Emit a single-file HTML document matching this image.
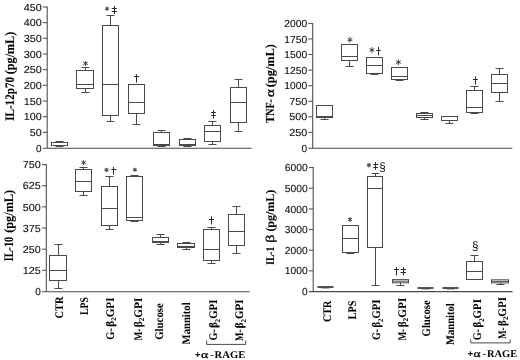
<!DOCTYPE html>
<html><head><meta charset="utf-8"><title>chart</title>
<style>
html,body{margin:0;padding:0;background:#fff;}
body{width:520px;height:360px;overflow:hidden;}
svg{display:block;will-change:transform;}
text{text-rendering:geometricPrecision;}
.tk{font-family:"Liberation Sans",sans-serif;font-size:10.2px;fill:#111;stroke:#111;stroke-width:0.12px;}
.yl{font-family:"Liberation Serif",serif;font-weight:bold;font-size:13px;fill:#000;stroke:#000;stroke-width:0.1px;}
.xl{font-family:"Liberation Serif",serif;font-weight:bold;font-size:11.6px;fill:#000;stroke:#000;stroke-width:0.05px;}
.y2{font-size:12.3px;}
.y4{font-size:11.8px;}
.nb{font-weight:normal !important;stroke:#000;stroke-width:0.3px;}
.sub{font-size:7.2px;}
.rg{font-family:"Liberation Serif",serif;font-weight:bold;font-size:10.2px;fill:#000;}
.sy{font-family:"Liberation Serif",serif;font-size:10px;fill:#222;}
.ss{font-family:"Liberation Sans",sans-serif;font-size:12.2px;fill:#111;}
</style></head><body>
<svg width="520" height="360" viewBox="0 0 520 360">
<rect width="520" height="360" fill="#fff"/>
<path d="M47.20 6.50V148.30M42.90 148.30H251.60" fill="none" stroke="#4a4a4a" stroke-width="1.05"/>
<text x="41.70" y="151.80" text-anchor="end" class="tk" textLength="5.60" lengthAdjust="spacingAndGlyphs">0</text>
<line x1="42.90" y1="132.33" x2="47.20" y2="132.33" stroke="#4a4a4a" stroke-width="1.0"/>
<text x="41.70" y="135.93" text-anchor="end" class="tk" textLength="11.90" lengthAdjust="spacingAndGlyphs">50</text>
<line x1="42.90" y1="116.67" x2="47.20" y2="116.67" stroke="#4a4a4a" stroke-width="1.0"/>
<text x="41.70" y="120.27" text-anchor="end" class="tk" textLength="18.00" lengthAdjust="spacingAndGlyphs">100</text>
<line x1="42.90" y1="101.00" x2="47.20" y2="101.00" stroke="#4a4a4a" stroke-width="1.0"/>
<text x="41.70" y="104.60" text-anchor="end" class="tk" textLength="18.00" lengthAdjust="spacingAndGlyphs">150</text>
<line x1="42.90" y1="85.33" x2="47.20" y2="85.33" stroke="#4a4a4a" stroke-width="1.0"/>
<text x="41.70" y="88.93" text-anchor="end" class="tk" textLength="18.00" lengthAdjust="spacingAndGlyphs">200</text>
<line x1="42.90" y1="69.67" x2="47.20" y2="69.67" stroke="#4a4a4a" stroke-width="1.0"/>
<text x="41.70" y="73.27" text-anchor="end" class="tk" textLength="18.00" lengthAdjust="spacingAndGlyphs">250</text>
<line x1="42.90" y1="54.00" x2="47.20" y2="54.00" stroke="#4a4a4a" stroke-width="1.0"/>
<text x="41.70" y="57.60" text-anchor="end" class="tk" textLength="18.00" lengthAdjust="spacingAndGlyphs">300</text>
<line x1="42.90" y1="38.33" x2="47.20" y2="38.33" stroke="#4a4a4a" stroke-width="1.0"/>
<text x="41.70" y="41.93" text-anchor="end" class="tk" textLength="18.00" lengthAdjust="spacingAndGlyphs">350</text>
<line x1="42.90" y1="22.67" x2="47.20" y2="22.67" stroke="#4a4a4a" stroke-width="1.0"/>
<text x="41.70" y="26.27" text-anchor="end" class="tk" textLength="18.00" lengthAdjust="spacingAndGlyphs">400</text>
<line x1="42.90" y1="7.00" x2="47.20" y2="7.00" stroke="#4a4a4a" stroke-width="1.0"/>
<text x="41.70" y="10.60" text-anchor="end" class="tk" textLength="18.00" lengthAdjust="spacingAndGlyphs">450</text>
<text transform="translate(13.60,120.80) rotate(-90)" class="yl" textLength="43.80" lengthAdjust="spacingAndGlyphs">IL-12p70</text>
<text transform="translate(13.60,74.20) rotate(-90)" class="yl" textLength="42.40" lengthAdjust="spacingAndGlyphs">(pg/mL)</text>
<rect x="51.50" y="142.50" width="16.00" height="3.00" fill="#fff" stroke="#4a4a4a" stroke-width="1.0"/>
<line x1="51.50" y1="145.50" x2="67.50" y2="145.50" stroke="#4a4a4a" stroke-width="1.0"/>
<line x1="59.50" y1="141.50" x2="59.50" y2="142.50" stroke="#4a4a4a" stroke-width="1.0"/>
<line x1="55.50" y1="141.50" x2="63.50" y2="141.50" stroke="#4a4a4a" stroke-width="1.0"/>
<line x1="59.50" y1="145.50" x2="59.50" y2="146.50" stroke="#4a4a4a" stroke-width="1.0"/>
<line x1="55.50" y1="146.50" x2="63.50" y2="146.50" stroke="#4a4a4a" stroke-width="1.0"/>
<rect x="76.50" y="70.50" width="17.00" height="18.00" fill="#fff" stroke="#4a4a4a" stroke-width="1.0"/>
<line x1="76.50" y1="84.50" x2="93.50" y2="84.50" stroke="#4a4a4a" stroke-width="1.0"/>
<line x1="85.50" y1="67.50" x2="85.50" y2="70.50" stroke="#4a4a4a" stroke-width="1.0"/>
<line x1="81.50" y1="67.50" x2="89.50" y2="67.50" stroke="#4a4a4a" stroke-width="1.0"/>
<line x1="85.50" y1="88.50" x2="85.50" y2="92.50" stroke="#4a4a4a" stroke-width="1.0"/>
<line x1="81.50" y1="92.50" x2="89.50" y2="92.50" stroke="#4a4a4a" stroke-width="1.0"/>
<rect x="102.50" y="25.50" width="16.00" height="90.00" fill="#fff" stroke="#4a4a4a" stroke-width="1.0"/>
<line x1="102.50" y1="84.50" x2="118.50" y2="84.50" stroke="#4a4a4a" stroke-width="1.0"/>
<line x1="110.50" y1="15.50" x2="110.50" y2="25.50" stroke="#4a4a4a" stroke-width="1.0"/>
<line x1="106.50" y1="15.50" x2="114.50" y2="15.50" stroke="#4a4a4a" stroke-width="1.0"/>
<line x1="110.50" y1="115.50" x2="110.50" y2="121.50" stroke="#4a4a4a" stroke-width="1.0"/>
<line x1="106.50" y1="121.50" x2="114.50" y2="121.50" stroke="#4a4a4a" stroke-width="1.0"/>
<rect x="128.50" y="84.50" width="16.00" height="29.00" fill="#fff" stroke="#4a4a4a" stroke-width="1.0"/>
<line x1="128.50" y1="102.50" x2="144.50" y2="102.50" stroke="#4a4a4a" stroke-width="1.0"/>
<line x1="132.50" y1="84.50" x2="140.50" y2="84.50" stroke="#4a4a4a" stroke-width="1.0"/>
<line x1="136.50" y1="113.50" x2="136.50" y2="124.50" stroke="#4a4a4a" stroke-width="1.0"/>
<line x1="132.50" y1="124.50" x2="140.50" y2="124.50" stroke="#4a4a4a" stroke-width="1.0"/>
<rect x="153.50" y="132.50" width="16.00" height="13.00" fill="#fff" stroke="#4a4a4a" stroke-width="1.0"/>
<line x1="153.50" y1="144.50" x2="169.50" y2="144.50" stroke="#4a4a4a" stroke-width="1.0"/>
<line x1="161.50" y1="130.50" x2="161.50" y2="132.50" stroke="#4a4a4a" stroke-width="1.0"/>
<line x1="157.50" y1="130.50" x2="165.50" y2="130.50" stroke="#4a4a4a" stroke-width="1.0"/>
<line x1="161.50" y1="145.50" x2="161.50" y2="146.50" stroke="#4a4a4a" stroke-width="1.0"/>
<line x1="157.50" y1="146.50" x2="165.50" y2="146.50" stroke="#4a4a4a" stroke-width="1.0"/>
<rect x="179.50" y="139.50" width="16.00" height="6.00" fill="#fff" stroke="#4a4a4a" stroke-width="1.0"/>
<line x1="179.50" y1="144.50" x2="195.50" y2="144.50" stroke="#4a4a4a" stroke-width="1.0"/>
<line x1="187.50" y1="138.50" x2="187.50" y2="139.50" stroke="#4a4a4a" stroke-width="1.0"/>
<line x1="183.50" y1="138.50" x2="191.50" y2="138.50" stroke="#4a4a4a" stroke-width="1.0"/>
<line x1="187.50" y1="145.50" x2="187.50" y2="146.50" stroke="#4a4a4a" stroke-width="1.0"/>
<line x1="183.50" y1="146.50" x2="191.50" y2="146.50" stroke="#4a4a4a" stroke-width="1.0"/>
<rect x="204.50" y="125.50" width="16.00" height="16.00" fill="#fff" stroke="#4a4a4a" stroke-width="1.0"/>
<line x1="204.50" y1="131.50" x2="220.50" y2="131.50" stroke="#4a4a4a" stroke-width="1.0"/>
<line x1="212.50" y1="121.50" x2="212.50" y2="125.50" stroke="#4a4a4a" stroke-width="1.0"/>
<line x1="208.50" y1="121.50" x2="216.50" y2="121.50" stroke="#4a4a4a" stroke-width="1.0"/>
<line x1="212.50" y1="141.50" x2="212.50" y2="144.50" stroke="#4a4a4a" stroke-width="1.0"/>
<line x1="208.50" y1="144.50" x2="216.50" y2="144.50" stroke="#4a4a4a" stroke-width="1.0"/>
<rect x="230.50" y="87.50" width="16.00" height="35.00" fill="#fff" stroke="#4a4a4a" stroke-width="1.0"/>
<line x1="230.50" y1="102.50" x2="246.50" y2="102.50" stroke="#4a4a4a" stroke-width="1.0"/>
<line x1="238.50" y1="79.50" x2="238.50" y2="87.50" stroke="#4a4a4a" stroke-width="1.0"/>
<line x1="234.50" y1="79.50" x2="242.50" y2="79.50" stroke="#4a4a4a" stroke-width="1.0"/>
<line x1="238.50" y1="122.50" x2="238.50" y2="131.50" stroke="#4a4a4a" stroke-width="1.0"/>
<line x1="234.50" y1="131.50" x2="242.50" y2="131.50" stroke="#4a4a4a" stroke-width="1.0"/>
<path d="M85.55 60.85L85.55 66.15M83.26 62.17L87.84 64.83M87.84 62.17L83.26 64.83" stroke="#3a3a3a" stroke-width="0.9" fill="none"/><circle cx="85.55" cy="63.50" r="0.9" fill="#3a3a3a"/>
<path d="M107.00 6.75L107.00 10.75M105.27 7.75L108.73 9.75M108.73 7.75L105.27 9.75" stroke="#555" stroke-width="1.25" fill="none"/><circle cx="107.00" cy="8.75" r="0.9" fill="#555"/>
<path d="M114.50 5.75V14.00M111.75 8.50H116.75M111.75 11.50H116.75" stroke="#2a2a2a" stroke-width="1" fill="none"/>
<path d="M136.50 74.25V82.50M134.00 76.50H139.25" stroke="#2a2a2a" stroke-width="1" fill="none"/>
<path d="M213.50 110.25V118.50M211.10 112.50H215.90M211.10 115.50H215.90" stroke="#2a2a2a" stroke-width="1" fill="none"/>
<path d="M312.70 22.90V148.30M308.40 148.30H512.30" fill="none" stroke="#4a4a4a" stroke-width="1.05"/>
<text x="307.20" y="151.80" text-anchor="end" class="tk" textLength="5.60" lengthAdjust="spacingAndGlyphs">0</text>
<line x1="308.40" y1="132.43" x2="312.70" y2="132.43" stroke="#4a4a4a" stroke-width="1.0"/>
<text x="307.20" y="136.03" text-anchor="end" class="tk" textLength="18.00" lengthAdjust="spacingAndGlyphs">250</text>
<line x1="308.40" y1="116.85" x2="312.70" y2="116.85" stroke="#4a4a4a" stroke-width="1.0"/>
<text x="307.20" y="120.45" text-anchor="end" class="tk" textLength="18.00" lengthAdjust="spacingAndGlyphs">500</text>
<line x1="308.40" y1="101.28" x2="312.70" y2="101.28" stroke="#4a4a4a" stroke-width="1.0"/>
<text x="307.20" y="104.88" text-anchor="end" class="tk" textLength="18.00" lengthAdjust="spacingAndGlyphs">750</text>
<line x1="308.40" y1="85.70" x2="312.70" y2="85.70" stroke="#4a4a4a" stroke-width="1.0"/>
<text x="307.20" y="89.30" text-anchor="end" class="tk" textLength="22.90" lengthAdjust="spacingAndGlyphs">1000</text>
<line x1="308.40" y1="70.12" x2="312.70" y2="70.12" stroke="#4a4a4a" stroke-width="1.0"/>
<text x="307.20" y="73.72" text-anchor="end" class="tk" textLength="22.90" lengthAdjust="spacingAndGlyphs">1250</text>
<line x1="308.40" y1="54.55" x2="312.70" y2="54.55" stroke="#4a4a4a" stroke-width="1.0"/>
<text x="307.20" y="58.15" text-anchor="end" class="tk" textLength="22.90" lengthAdjust="spacingAndGlyphs">1500</text>
<line x1="308.40" y1="38.97" x2="312.70" y2="38.97" stroke="#4a4a4a" stroke-width="1.0"/>
<text x="307.20" y="42.57" text-anchor="end" class="tk" textLength="22.90" lengthAdjust="spacingAndGlyphs">1750</text>
<line x1="308.40" y1="23.40" x2="312.70" y2="23.40" stroke="#4a4a4a" stroke-width="1.0"/>
<text x="307.20" y="27.00" text-anchor="end" class="tk" textLength="22.90" lengthAdjust="spacingAndGlyphs">2000</text>
<text transform="translate(274.00,122.70) rotate(-90)" class="yl y2" textLength="23.70" lengthAdjust="spacingAndGlyphs">TNF-</text>
<text transform="translate(274.00,87.30) rotate(-90)" class="yl y2" textLength="43.20" lengthAdjust="spacingAndGlyphs">(pg/mL)</text>
<text transform="translate(274.00,97.30) rotate(-90)" class="yl y2 nb" textLength="8.10" lengthAdjust="spacingAndGlyphs">α</text>
<rect x="316.50" y="105.50" width="16.00" height="12.00" fill="#fff" stroke="#4a4a4a" stroke-width="1.0"/>
<line x1="316.50" y1="116.50" x2="332.50" y2="116.50" stroke="#4a4a4a" stroke-width="1.0"/>
<line x1="324.50" y1="117.50" x2="324.50" y2="119.50" stroke="#4a4a4a" stroke-width="1.0"/>
<line x1="320.50" y1="119.50" x2="328.50" y2="119.50" stroke="#4a4a4a" stroke-width="1.0"/>
<rect x="341.50" y="44.50" width="16.00" height="16.00" fill="#fff" stroke="#4a4a4a" stroke-width="1.0"/>
<line x1="341.50" y1="56.50" x2="357.50" y2="56.50" stroke="#4a4a4a" stroke-width="1.0"/>
<line x1="349.50" y1="60.50" x2="349.50" y2="66.50" stroke="#4a4a4a" stroke-width="1.0"/>
<line x1="345.50" y1="66.50" x2="353.50" y2="66.50" stroke="#4a4a4a" stroke-width="1.0"/>
<rect x="366.50" y="57.50" width="16.00" height="16.00" fill="#fff" stroke="#4a4a4a" stroke-width="1.0"/>
<line x1="366.50" y1="65.50" x2="382.50" y2="65.50" stroke="#4a4a4a" stroke-width="1.0"/>
<line x1="374.50" y1="73.50" x2="374.50" y2="74.50" stroke="#4a4a4a" stroke-width="1.0"/>
<line x1="370.50" y1="74.50" x2="378.50" y2="74.50" stroke="#4a4a4a" stroke-width="1.0"/>
<rect x="391.50" y="67.50" width="16.00" height="12.00" fill="#fff" stroke="#4a4a4a" stroke-width="1.0"/>
<line x1="391.50" y1="76.50" x2="407.50" y2="76.50" stroke="#4a4a4a" stroke-width="1.0"/>
<line x1="399.50" y1="79.50" x2="399.50" y2="80.50" stroke="#4a4a4a" stroke-width="1.0"/>
<line x1="395.50" y1="80.50" x2="403.50" y2="80.50" stroke="#4a4a4a" stroke-width="1.0"/>
<rect x="416.50" y="113.50" width="16.00" height="4.00" fill="#fff" stroke="#4a4a4a" stroke-width="1.0"/>
<line x1="416.50" y1="115.50" x2="432.50" y2="115.50" stroke="#4a4a4a" stroke-width="1.0"/>
<line x1="424.50" y1="112.50" x2="424.50" y2="113.50" stroke="#4a4a4a" stroke-width="1.0"/>
<line x1="420.50" y1="112.50" x2="428.50" y2="112.50" stroke="#4a4a4a" stroke-width="1.0"/>
<line x1="424.50" y1="117.50" x2="424.50" y2="119.50" stroke="#4a4a4a" stroke-width="1.0"/>
<line x1="420.50" y1="119.50" x2="428.50" y2="119.50" stroke="#4a4a4a" stroke-width="1.0"/>
<rect x="441.50" y="116.50" width="16.00" height="4.00" fill="#fff" stroke="#4a4a4a" stroke-width="1.0"/>
<line x1="441.50" y1="116.50" x2="457.50" y2="116.50" stroke="#4a4a4a" stroke-width="1.0"/>
<line x1="449.50" y1="120.50" x2="449.50" y2="123.50" stroke="#4a4a4a" stroke-width="1.0"/>
<line x1="445.50" y1="123.50" x2="453.50" y2="123.50" stroke="#4a4a4a" stroke-width="1.0"/>
<rect x="466.50" y="90.50" width="16.00" height="22.00" fill="#fff" stroke="#4a4a4a" stroke-width="1.0"/>
<line x1="466.50" y1="107.50" x2="482.50" y2="107.50" stroke="#4a4a4a" stroke-width="1.0"/>
<line x1="474.50" y1="86.50" x2="474.50" y2="90.50" stroke="#4a4a4a" stroke-width="1.0"/>
<line x1="470.50" y1="86.50" x2="478.50" y2="86.50" stroke="#4a4a4a" stroke-width="1.0"/>
<line x1="474.50" y1="112.50" x2="474.50" y2="113.50" stroke="#4a4a4a" stroke-width="1.0"/>
<line x1="470.50" y1="113.50" x2="478.50" y2="113.50" stroke="#4a4a4a" stroke-width="1.0"/>
<rect x="491.50" y="74.50" width="16.00" height="18.00" fill="#fff" stroke="#4a4a4a" stroke-width="1.0"/>
<line x1="491.50" y1="83.50" x2="507.50" y2="83.50" stroke="#4a4a4a" stroke-width="1.0"/>
<line x1="499.50" y1="68.50" x2="499.50" y2="74.50" stroke="#4a4a4a" stroke-width="1.0"/>
<line x1="495.50" y1="68.50" x2="503.50" y2="68.50" stroke="#4a4a4a" stroke-width="1.0"/>
<line x1="499.50" y1="92.50" x2="499.50" y2="101.50" stroke="#4a4a4a" stroke-width="1.0"/>
<line x1="495.50" y1="101.50" x2="503.50" y2="101.50" stroke="#4a4a4a" stroke-width="1.0"/>
<path d="M349.90 36.90L349.90 42.60M347.43 38.33L352.37 41.17M352.37 38.33L347.43 41.17" stroke="#3a3a3a" stroke-width="0.9" fill="none"/><circle cx="349.90" cy="39.75" r="0.9" fill="#3a3a3a"/>
<path d="M371.90 47.15L371.90 52.85M369.43 48.58L374.37 51.42M374.37 48.58L369.43 51.42" stroke="#3a3a3a" stroke-width="0.9" fill="none"/><circle cx="371.90" cy="50.00" r="0.9" fill="#3a3a3a"/>
<path d="M378.50 47.00V55.50M376.25 50.50H380.75" stroke="#2a2a2a" stroke-width="1" fill="none"/>
<path d="M398.40 59.45L398.40 65.05M395.98 60.85L400.82 63.65M400.82 60.85L395.98 63.65" stroke="#3a3a3a" stroke-width="0.9" fill="none"/><circle cx="398.40" cy="62.25" r="0.9" fill="#3a3a3a"/>
<path d="M475.50 76.50V84.50M472.90 79.50H477.90" stroke="#2a2a2a" stroke-width="1" fill="none"/>
<path d="M46.30 164.10V291.70M42.00 291.70H249.60" fill="none" stroke="#4a4a4a" stroke-width="1.05"/>
<text x="40.80" y="295.20" text-anchor="end" class="tk" textLength="5.60" lengthAdjust="spacingAndGlyphs">0</text>
<line x1="42.00" y1="270.31" x2="46.30" y2="270.31" stroke="#4a4a4a" stroke-width="1.0"/>
<text x="40.80" y="273.91" text-anchor="end" class="tk" textLength="18.00" lengthAdjust="spacingAndGlyphs">125</text>
<line x1="42.00" y1="249.17" x2="46.30" y2="249.17" stroke="#4a4a4a" stroke-width="1.0"/>
<text x="40.80" y="252.77" text-anchor="end" class="tk" textLength="18.00" lengthAdjust="spacingAndGlyphs">250</text>
<line x1="42.00" y1="228.04" x2="46.30" y2="228.04" stroke="#4a4a4a" stroke-width="1.0"/>
<text x="40.80" y="231.64" text-anchor="end" class="tk" textLength="18.00" lengthAdjust="spacingAndGlyphs">375</text>
<line x1="42.00" y1="206.90" x2="46.30" y2="206.90" stroke="#4a4a4a" stroke-width="1.0"/>
<text x="40.80" y="210.50" text-anchor="end" class="tk" textLength="18.00" lengthAdjust="spacingAndGlyphs">500</text>
<line x1="42.00" y1="185.76" x2="46.30" y2="185.76" stroke="#4a4a4a" stroke-width="1.0"/>
<text x="40.80" y="189.36" text-anchor="end" class="tk" textLength="18.00" lengthAdjust="spacingAndGlyphs">625</text>
<line x1="42.00" y1="164.62" x2="46.30" y2="164.62" stroke="#4a4a4a" stroke-width="1.0"/>
<text x="40.80" y="168.22" text-anchor="end" class="tk" textLength="18.00" lengthAdjust="spacingAndGlyphs">750</text>
<text transform="translate(13.30,261.30) rotate(-90)" class="yl" textLength="24.40" lengthAdjust="spacingAndGlyphs">IL-10</text>
<text transform="translate(13.30,232.80) rotate(-90)" class="yl" textLength="42.90" lengthAdjust="spacingAndGlyphs">(pg/mL)</text>
<rect x="49.50" y="255.50" width="17.00" height="25.00" fill="#fff" stroke="#4a4a4a" stroke-width="1.0"/>
<line x1="49.50" y1="270.50" x2="66.50" y2="270.50" stroke="#4a4a4a" stroke-width="1.0"/>
<line x1="58.50" y1="244.50" x2="58.50" y2="255.50" stroke="#4a4a4a" stroke-width="1.0"/>
<line x1="54.50" y1="244.50" x2="62.50" y2="244.50" stroke="#4a4a4a" stroke-width="1.0"/>
<line x1="58.50" y1="280.50" x2="58.50" y2="288.50" stroke="#4a4a4a" stroke-width="1.0"/>
<line x1="54.50" y1="288.50" x2="62.50" y2="288.50" stroke="#4a4a4a" stroke-width="1.0"/>
<rect x="75.50" y="169.50" width="16.00" height="22.00" fill="#fff" stroke="#4a4a4a" stroke-width="1.0"/>
<line x1="75.50" y1="181.50" x2="91.50" y2="181.50" stroke="#4a4a4a" stroke-width="1.0"/>
<line x1="83.50" y1="167.50" x2="83.50" y2="169.50" stroke="#4a4a4a" stroke-width="1.0"/>
<line x1="79.50" y1="167.50" x2="87.50" y2="167.50" stroke="#4a4a4a" stroke-width="1.0"/>
<line x1="83.50" y1="191.50" x2="83.50" y2="195.50" stroke="#4a4a4a" stroke-width="1.0"/>
<line x1="79.50" y1="195.50" x2="87.50" y2="195.50" stroke="#4a4a4a" stroke-width="1.0"/>
<rect x="101.50" y="186.50" width="16.00" height="39.00" fill="#fff" stroke="#4a4a4a" stroke-width="1.0"/>
<line x1="101.50" y1="208.50" x2="117.50" y2="208.50" stroke="#4a4a4a" stroke-width="1.0"/>
<line x1="109.50" y1="176.50" x2="109.50" y2="186.50" stroke="#4a4a4a" stroke-width="1.0"/>
<line x1="105.50" y1="176.50" x2="113.50" y2="176.50" stroke="#4a4a4a" stroke-width="1.0"/>
<line x1="109.50" y1="225.50" x2="109.50" y2="229.50" stroke="#4a4a4a" stroke-width="1.0"/>
<line x1="105.50" y1="229.50" x2="113.50" y2="229.50" stroke="#4a4a4a" stroke-width="1.0"/>
<rect x="126.50" y="176.50" width="16.00" height="44.00" fill="#fff" stroke="#4a4a4a" stroke-width="1.0"/>
<line x1="126.50" y1="217.50" x2="142.50" y2="217.50" stroke="#4a4a4a" stroke-width="1.0"/>
<line x1="134.50" y1="175.50" x2="134.50" y2="176.50" stroke="#4a4a4a" stroke-width="1.0"/>
<line x1="130.50" y1="175.50" x2="138.50" y2="175.50" stroke="#4a4a4a" stroke-width="1.0"/>
<line x1="134.50" y1="220.50" x2="134.50" y2="221.50" stroke="#4a4a4a" stroke-width="1.0"/>
<line x1="130.50" y1="221.50" x2="138.50" y2="221.50" stroke="#4a4a4a" stroke-width="1.0"/>
<rect x="152.50" y="237.50" width="16.00" height="5.00" fill="#fff" stroke="#4a4a4a" stroke-width="1.0"/>
<line x1="152.50" y1="241.50" x2="168.50" y2="241.50" stroke="#4a4a4a" stroke-width="1.0"/>
<line x1="160.50" y1="234.50" x2="160.50" y2="237.50" stroke="#4a4a4a" stroke-width="1.0"/>
<line x1="156.50" y1="234.50" x2="164.50" y2="234.50" stroke="#4a4a4a" stroke-width="1.0"/>
<line x1="160.50" y1="242.50" x2="160.50" y2="244.50" stroke="#4a4a4a" stroke-width="1.0"/>
<line x1="156.50" y1="244.50" x2="164.50" y2="244.50" stroke="#4a4a4a" stroke-width="1.0"/>
<rect x="177.50" y="243.50" width="17.00" height="4.00" fill="#fff" stroke="#4a4a4a" stroke-width="1.0"/>
<line x1="177.50" y1="246.50" x2="194.50" y2="246.50" stroke="#4a4a4a" stroke-width="1.0"/>
<line x1="186.50" y1="242.50" x2="186.50" y2="243.50" stroke="#4a4a4a" stroke-width="1.0"/>
<line x1="182.50" y1="242.50" x2="190.50" y2="242.50" stroke="#4a4a4a" stroke-width="1.0"/>
<line x1="186.50" y1="247.50" x2="186.50" y2="249.50" stroke="#4a4a4a" stroke-width="1.0"/>
<line x1="182.50" y1="249.50" x2="190.50" y2="249.50" stroke="#4a4a4a" stroke-width="1.0"/>
<rect x="203.50" y="229.50" width="16.00" height="31.00" fill="#fff" stroke="#4a4a4a" stroke-width="1.0"/>
<line x1="203.50" y1="249.50" x2="219.50" y2="249.50" stroke="#4a4a4a" stroke-width="1.0"/>
<line x1="211.50" y1="227.50" x2="211.50" y2="229.50" stroke="#4a4a4a" stroke-width="1.0"/>
<line x1="207.50" y1="227.50" x2="215.50" y2="227.50" stroke="#4a4a4a" stroke-width="1.0"/>
<line x1="211.50" y1="260.50" x2="211.50" y2="263.50" stroke="#4a4a4a" stroke-width="1.0"/>
<line x1="207.50" y1="263.50" x2="215.50" y2="263.50" stroke="#4a4a4a" stroke-width="1.0"/>
<rect x="228.50" y="214.50" width="16.00" height="31.00" fill="#fff" stroke="#4a4a4a" stroke-width="1.0"/>
<line x1="228.50" y1="231.50" x2="244.50" y2="231.50" stroke="#4a4a4a" stroke-width="1.0"/>
<line x1="236.50" y1="206.50" x2="236.50" y2="214.50" stroke="#4a4a4a" stroke-width="1.0"/>
<line x1="232.50" y1="206.50" x2="240.50" y2="206.50" stroke="#4a4a4a" stroke-width="1.0"/>
<line x1="236.50" y1="245.50" x2="236.50" y2="253.50" stroke="#4a4a4a" stroke-width="1.0"/>
<line x1="232.50" y1="253.50" x2="240.50" y2="253.50" stroke="#4a4a4a" stroke-width="1.0"/>
<path d="M83.60 159.95L83.60 165.25M81.31 161.28L85.89 163.92M85.89 161.28L81.31 163.92" stroke="#3a3a3a" stroke-width="0.9" fill="none"/><circle cx="83.60" cy="162.60" r="0.9" fill="#3a3a3a"/>
<path d="M106.50 167.65L106.50 172.15M104.55 168.78L108.45 171.03M108.45 168.78L104.55 171.03" stroke="#555" stroke-width="1.25" fill="none"/><circle cx="106.50" cy="169.90" r="0.9" fill="#555"/>
<path d="M113.50 167.00V174.50M111.25 169.50H116.50" stroke="#2a2a2a" stroke-width="1" fill="none"/>
<path d="M134.90 167.65L134.90 171.85M133.08 168.70L136.72 170.80M136.72 168.70L133.08 170.80" stroke="#555" stroke-width="1.25" fill="none"/><circle cx="134.90" cy="169.75" r="0.9" fill="#555"/>
<path d="M211.50 216.25V224.50M209.00 219.50H214.00" stroke="#2a2a2a" stroke-width="1" fill="none"/>
<path d="M313.20 167.10V291.60M308.90 291.60H512.60" fill="none" stroke="#4a4a4a" stroke-width="1.05"/>
<text x="307.70" y="295.10" text-anchor="end" class="tk" textLength="5.60" lengthAdjust="spacingAndGlyphs">0</text>
<line x1="308.90" y1="270.85" x2="313.20" y2="270.85" stroke="#4a4a4a" stroke-width="1.0"/>
<text x="307.70" y="274.45" text-anchor="end" class="tk" textLength="22.90" lengthAdjust="spacingAndGlyphs">1000</text>
<line x1="308.90" y1="250.20" x2="313.20" y2="250.20" stroke="#4a4a4a" stroke-width="1.0"/>
<text x="307.70" y="253.80" text-anchor="end" class="tk" textLength="22.90" lengthAdjust="spacingAndGlyphs">2000</text>
<line x1="308.90" y1="229.55" x2="313.20" y2="229.55" stroke="#4a4a4a" stroke-width="1.0"/>
<text x="307.70" y="233.15" text-anchor="end" class="tk" textLength="22.90" lengthAdjust="spacingAndGlyphs">3000</text>
<line x1="308.90" y1="208.90" x2="313.20" y2="208.90" stroke="#4a4a4a" stroke-width="1.0"/>
<text x="307.70" y="212.50" text-anchor="end" class="tk" textLength="22.90" lengthAdjust="spacingAndGlyphs">4000</text>
<line x1="308.90" y1="188.25" x2="313.20" y2="188.25" stroke="#4a4a4a" stroke-width="1.0"/>
<text x="307.70" y="191.85" text-anchor="end" class="tk" textLength="22.90" lengthAdjust="spacingAndGlyphs">5000</text>
<line x1="308.90" y1="167.60" x2="313.20" y2="167.60" stroke="#4a4a4a" stroke-width="1.0"/>
<text x="307.70" y="171.20" text-anchor="end" class="tk" textLength="22.90" lengthAdjust="spacingAndGlyphs">6000</text>
<text transform="translate(274.40,264.70) rotate(-90)" class="yl y4" textLength="17.90" lengthAdjust="spacingAndGlyphs">IL-1</text>
<text transform="translate(274.40,231.60) rotate(-90)" class="yl y4" textLength="41.70" lengthAdjust="spacingAndGlyphs">(pg/mL)</text>
<text transform="translate(274.40,242.80) rotate(-90)" class="yl y4 nb" textLength="8.20" lengthAdjust="spacingAndGlyphs">β</text>
<rect x="317.50" y="286.25" width="16.00" height="1.5" fill="#1c1c1c"/>
<rect x="321.50" y="287.50" width="8" height="0.9" fill="#444"/>
<rect x="342.50" y="225.50" width="16.00" height="27.00" fill="#fff" stroke="#4a4a4a" stroke-width="1.0"/>
<line x1="342.50" y1="238.50" x2="358.50" y2="238.50" stroke="#4a4a4a" stroke-width="1.0"/>
<line x1="350.50" y1="252.50" x2="350.50" y2="253.50" stroke="#4a4a4a" stroke-width="1.0"/>
<line x1="346.50" y1="253.50" x2="354.50" y2="253.50" stroke="#4a4a4a" stroke-width="1.0"/>
<rect x="367.50" y="176.50" width="15.00" height="71.00" fill="#fff" stroke="#4a4a4a" stroke-width="1.0"/>
<line x1="367.50" y1="188.50" x2="382.50" y2="188.50" stroke="#4a4a4a" stroke-width="1.0"/>
<line x1="375.50" y1="173.50" x2="375.50" y2="176.50" stroke="#4a4a4a" stroke-width="1.0"/>
<line x1="371.50" y1="173.50" x2="379.50" y2="173.50" stroke="#4a4a4a" stroke-width="1.0"/>
<line x1="375.50" y1="247.50" x2="375.50" y2="285.50" stroke="#4a4a4a" stroke-width="1.0"/>
<line x1="371.50" y1="285.50" x2="379.50" y2="285.50" stroke="#4a4a4a" stroke-width="1.0"/>
<rect x="392.50" y="279.60" width="16.00" height="3.20" fill="#fff" stroke="#4a4a4a" stroke-width="1.0"/>
<line x1="392.50" y1="281.20" x2="408.50" y2="281.20" stroke="#4a4a4a" stroke-width="1.0"/>
<line x1="400.50" y1="282.80" x2="400.50" y2="285.50" stroke="#4a4a4a" stroke-width="1.0"/>
<line x1="396.50" y1="285.50" x2="404.50" y2="285.50" stroke="#4a4a4a" stroke-width="1.0"/>
<rect x="417.50" y="287.25" width="16.00" height="1.5" fill="#1c1c1c"/>
<rect x="421.50" y="288.50" width="8" height="0.9" fill="#444"/>
<rect x="442.50" y="287.25" width="16.00" height="1.5" fill="#1c1c1c"/>
<rect x="446.50" y="288.50" width="8" height="0.9" fill="#444"/>
<rect x="466.50" y="261.50" width="16.00" height="18.00" fill="#fff" stroke="#4a4a4a" stroke-width="1.0"/>
<line x1="466.50" y1="271.50" x2="482.50" y2="271.50" stroke="#4a4a4a" stroke-width="1.0"/>
<line x1="474.50" y1="255.50" x2="474.50" y2="261.50" stroke="#4a4a4a" stroke-width="1.0"/>
<line x1="470.50" y1="255.50" x2="478.50" y2="255.50" stroke="#4a4a4a" stroke-width="1.0"/>
<line x1="470.50" y1="279.50" x2="478.50" y2="279.50" stroke="#4a4a4a" stroke-width="1.0"/>
<rect x="491.50" y="279.80" width="17.00" height="3.10" fill="#fff" stroke="#4a4a4a" stroke-width="1.0"/>
<line x1="491.50" y1="281.40" x2="508.50" y2="281.40" stroke="#4a4a4a" stroke-width="1.0"/>
<line x1="500.50" y1="282.90" x2="500.50" y2="284.50" stroke="#4a4a4a" stroke-width="1.0"/>
<line x1="496.50" y1="284.50" x2="504.50" y2="284.50" stroke="#4a4a4a" stroke-width="1.0"/>
<path d="M350.00 217.15L350.00 221.65M348.05 218.28L351.95 220.53M351.95 218.28L348.05 220.53" stroke="#555" stroke-width="1.25" fill="none"/><circle cx="350.00" cy="219.40" r="0.9" fill="#555"/>
<path d="M368.90 162.95L368.90 167.45M366.95 164.07L370.85 166.32M370.85 164.07L366.95 166.32" stroke="#555" stroke-width="1.25" fill="none"/><circle cx="368.90" cy="165.20" r="0.9" fill="#555"/>
<path d="M375.50 162.00V169.80M373.25 164.50H378.20M373.25 167.50H378.20" stroke="#2a2a2a" stroke-width="1" fill="none"/>
<text x="379.3" y="170.5" class="ss" textLength="6.5" lengthAdjust="spacingAndGlyphs">§</text>
<path d="M396.50 267.20V275.30M393.90 269.50H398.90" stroke="#2a2a2a" stroke-width="1" fill="none"/>
<path d="M403.50 267.20V275.30M400.60 269.50H406.00M400.60 272.50H406.00" stroke="#2a2a2a" stroke-width="1" fill="none"/>
<text x="472.0" y="250.3" class="ss" textLength="6.5" lengthAdjust="spacingAndGlyphs">§</text>
<text transform="translate(63.20,318.40) rotate(-90)" class="xl" textLength="21.90" lengthAdjust="spacingAndGlyphs">CTR</text>
<text transform="translate(87.70,315.00) rotate(-90)" class="xl" textLength="17.90" lengthAdjust="spacingAndGlyphs">LPS</text>
<text transform="translate(113.70,326.70) rotate(-90)" class="xl" textLength="29.20" lengthAdjust="spacingAndGlyphs">β<tspan class="sub" dy="2.4">2</tspan><tspan dy="-2.4">GPI</tspan></text>
<text transform="translate(113.70,339.70) rotate(-90)" class="xl" textLength="11.60" lengthAdjust="spacingAndGlyphs">G-</text>
<text transform="translate(141.80,327.33) rotate(-90)" class="xl" textLength="29.83" lengthAdjust="spacingAndGlyphs">β<tspan class="sub" dy="2.4">2</tspan><tspan dy="-2.4">GPI</tspan></text>
<text transform="translate(141.80,340.60) rotate(-90)" class="xl" textLength="11.84" lengthAdjust="spacingAndGlyphs">M-</text>
<text transform="translate(162.70,339.80) rotate(-90)" class="xl" textLength="36.60" lengthAdjust="spacingAndGlyphs">Glucose</text>
<text transform="translate(190.20,344.40) rotate(-90)" class="xl" textLength="42.00" lengthAdjust="spacingAndGlyphs">Mannitol</text>
<text transform="translate(217.30,327.82) rotate(-90)" class="xl" textLength="28.22" lengthAdjust="spacingAndGlyphs">β<tspan class="sub" dy="2.4">2</tspan><tspan dy="-2.4">GPI</tspan></text>
<text transform="translate(217.30,340.40) rotate(-90)" class="xl" textLength="11.23" lengthAdjust="spacingAndGlyphs">G-</text>
<text transform="translate(243.20,328.18) rotate(-90)" class="xl" textLength="28.78" lengthAdjust="spacingAndGlyphs">β<tspan class="sub" dy="2.4">2</tspan><tspan dy="-2.4">GPI</tspan></text>
<text transform="translate(243.20,341.00) rotate(-90)" class="xl" textLength="11.44" lengthAdjust="spacingAndGlyphs">M-</text>
<text transform="translate(330.60,322.00) rotate(-90)" class="xl" textLength="21.40" lengthAdjust="spacingAndGlyphs">CTR</text>
<text transform="translate(355.60,319.40) rotate(-90)" class="xl" textLength="18.80" lengthAdjust="spacingAndGlyphs">LPS</text>
<text transform="translate(380.40,327.54) rotate(-90)" class="xl" textLength="27.94" lengthAdjust="spacingAndGlyphs">β<tspan class="sub" dy="2.4">2</tspan><tspan dy="-2.4">GPI</tspan></text>
<text transform="translate(380.40,340.00) rotate(-90)" class="xl" textLength="11.12" lengthAdjust="spacingAndGlyphs">G-</text>
<text transform="translate(405.60,327.36) rotate(-90)" class="xl" textLength="29.76" lengthAdjust="spacingAndGlyphs">β<tspan class="sub" dy="2.4">2</tspan><tspan dy="-2.4">GPI</tspan></text>
<text transform="translate(405.60,340.60) rotate(-90)" class="xl" textLength="11.81" lengthAdjust="spacingAndGlyphs">M-</text>
<text transform="translate(430.00,336.40) rotate(-90)" class="xl" textLength="36.10" lengthAdjust="spacingAndGlyphs">Glucose</text>
<text transform="translate(454.20,344.90) rotate(-90)" class="xl" textLength="41.60" lengthAdjust="spacingAndGlyphs">Mannitol</text>
<text transform="translate(481.20,327.60) rotate(-90)" class="xl" textLength="28.50" lengthAdjust="spacingAndGlyphs">β<tspan class="sub" dy="2.4">2</tspan><tspan dy="-2.4">GPI</tspan></text>
<text transform="translate(481.20,340.30) rotate(-90)" class="xl" textLength="11.34" lengthAdjust="spacingAndGlyphs">G-</text>
<text transform="translate(505.70,326.00) rotate(-90)" class="xl" textLength="29.20" lengthAdjust="spacingAndGlyphs">β<tspan class="sub" dy="2.4">2</tspan><tspan dy="-2.4">GPI</tspan></text>
<text transform="translate(505.70,339.00) rotate(-90)" class="xl" textLength="11.60" lengthAdjust="spacingAndGlyphs">M-</text>
<path d="M206.6 340.4V344.4H245.7V340.4" fill="none" stroke="#4a4a4a" stroke-width="1.0"/>
<path d="M470.7 339.4V342.9H510.2V339.4" fill="none" stroke="#4a4a4a" stroke-width="1.0"/>
<path d="M195.30 354.60H200.10M197.70 352.20V357.00" stroke="#111" stroke-width="1.05" fill="none"/>
<text x="201.00" y="357.70" class="rg nb" textLength="7.30" lengthAdjust="spacingAndGlyphs">α</text>
<text x="210.30" y="357.70" class="rg" textLength="3.50" lengthAdjust="spacingAndGlyphs">-</text>
<text x="214.50" y="357.70" class="rg" textLength="30.80" lengthAdjust="spacingAndGlyphs">RAGE</text>
<path d="M467.95 353.60H472.75M470.35 351.20V356.00" stroke="#111" stroke-width="1.05" fill="none"/>
<text x="473.40" y="356.70" class="rg nb" textLength="7.00" lengthAdjust="spacingAndGlyphs">α</text>
<text x="482.80" y="356.70" class="rg" textLength="3.40" lengthAdjust="spacingAndGlyphs">-</text>
<text x="486.90" y="356.70" class="rg" textLength="30.30" lengthAdjust="spacingAndGlyphs">RAGE</text>
</svg>
</body></html>
